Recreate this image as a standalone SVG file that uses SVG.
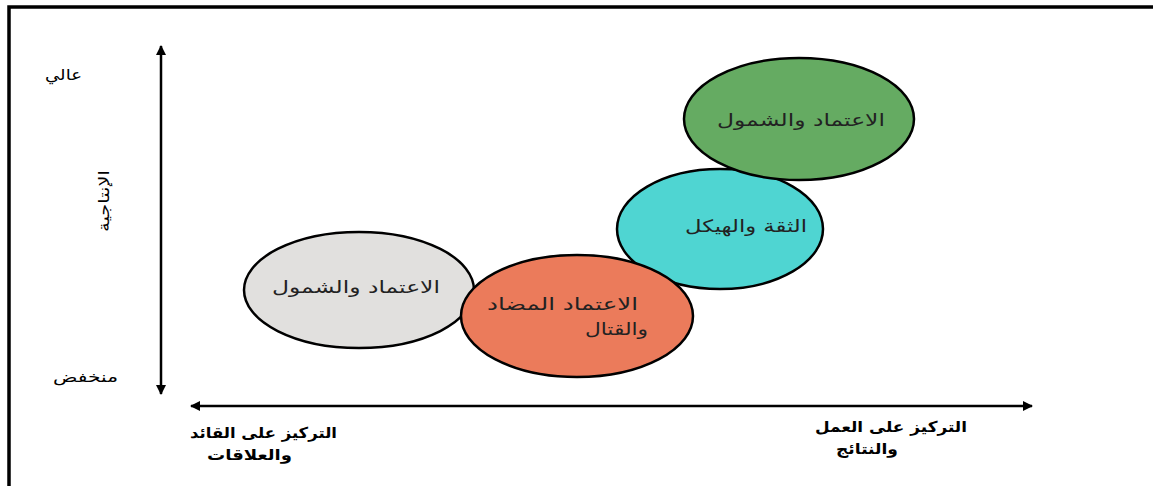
<svg xmlns="http://www.w3.org/2000/svg" width="1153" height="486" viewBox="0 0 1153 486">
<defs>
<style>
.frame{stroke:#000;stroke-width:3.5;fill:none}
.axis{stroke:#000;stroke-width:2.5;fill:none}
.el{stroke:#000;stroke-width:2.5}
.t{font-family:"DejaVu Sans","Noto Sans",sans-serif;font-size:17px;fill:#222}
.lab{font-family:"DejaVu Sans","Noto Sans",sans-serif;font-size:15px;fill:#000}
.b{font-weight:bold}
</style>
<marker id="ah" viewBox="0 0 10 10" refX="9" refY="5" markerWidth="4" markerHeight="4" orient="auto-start-reverse" markerUnits="strokeWidth">
<path d="M0,0 L10,5 L0,10 z" fill="#000"/>
</marker>
</defs>
<rect width="1153" height="486" fill="#fff"/>
<path class="frame" d="M9,486 V7 H1153"/>
<g id="connectors">
<line class="axis" x1="161" y1="46" x2="161" y2="394" marker-start="url(#ah)" marker-end="url(#ah)"/>
<line class="axis" x1="191" y1="406" x2="1032" y2="406" marker-start="url(#ah)" marker-end="url(#ah)"/>
</g>
<g id="labels">
<text class="lab" x="45" y="80" textLength="37" lengthAdjust="spacingAndGlyphs">عالي</text>
<text class="lab" x="53" y="382" textLength="65" lengthAdjust="spacingAndGlyphs">منخفض</text>
<text class="lab" x="-31" y="0" font-size="13" textLength="62" lengthAdjust="spacingAndGlyphs" transform="translate(109,201) rotate(-90)">الإنتاجية</text>
<text class="lab b" x="190" y="438" textLength="147" lengthAdjust="spacingAndGlyphs">التركيز على القائد</text>
<text class="lab b" x="207" y="460" textLength="85" lengthAdjust="spacingAndGlyphs">والعلاقات</text>
<text class="lab b" x="815" y="432" textLength="152" lengthAdjust="spacingAndGlyphs">التركيز على العمل</text>
<text class="lab b" x="836" y="454" textLength="62" lengthAdjust="spacingAndGlyphs">والنتائج</text>
</g>
<g id="node-gray">
<ellipse class="el" cx="359" cy="290" rx="115" ry="58" fill="#e1e0de"/>
<text class="t" x="272" y="293" textLength="168" lengthAdjust="spacingAndGlyphs">الاعتماد والشمول</text>
</g>
<g id="node-cyan">
<ellipse class="el" cx="720" cy="229" rx="103" ry="60" fill="#4fd5d2"/>
<text class="t" x="685" y="232" textLength="122" lengthAdjust="spacingAndGlyphs">الثقة والهيكل</text>
</g>
<g id="node-orange">
<ellipse class="el" cx="577" cy="316" rx="116" ry="61" fill="#eb7b5b"/>
<text class="t" x="487" y="310" textLength="151" lengthAdjust="spacingAndGlyphs">الاعتماد المضاد</text>
<text class="t" x="585" y="335" textLength="63" lengthAdjust="spacingAndGlyphs">والقتال</text>
</g>
<g id="node-green">
<ellipse class="el" cx="799" cy="119" rx="115" ry="61" fill="#65ab62"/>
<text class="t" x="717" y="126" textLength="168" lengthAdjust="spacingAndGlyphs">الاعتماد والشمول</text>
</g>
</svg>
